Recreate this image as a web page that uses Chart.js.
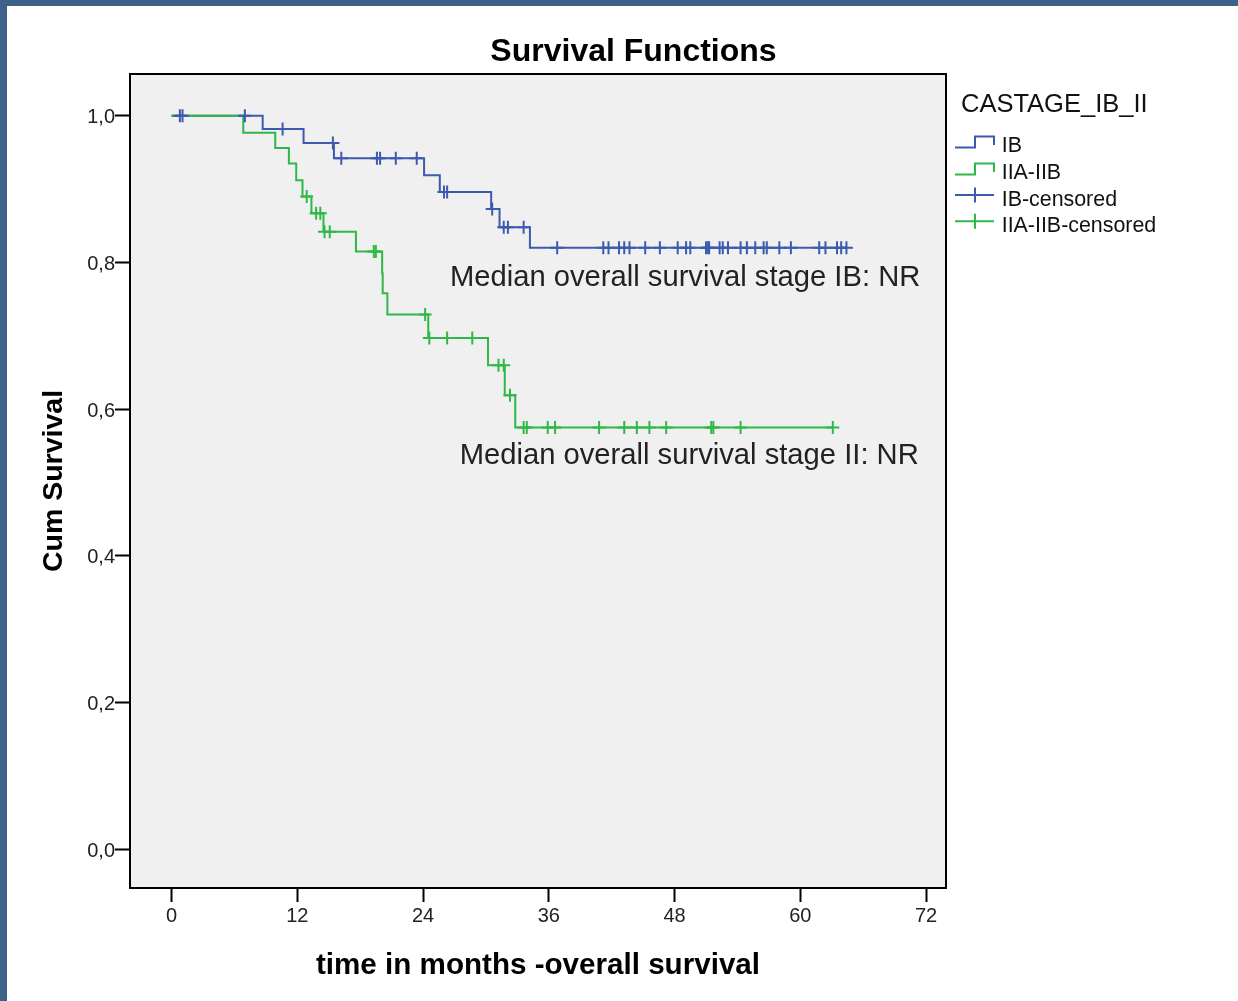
<!DOCTYPE html>
<html>
<head>
<meta charset="utf-8">
<script src="https://cdn.jsdelivr.net/npm/chart.js@4.4.1/dist/chart.umd.min.js"></script>
<style>
  html, body { margin: 0; padding: 0; background: #fff; }
  #wrap { position: absolute; left: 0; top: 0; width: 1238px; height: 1001px; box-sizing: border-box;
          border-left: 7px solid #3d6189; border-top: 6px solid #3d6189; background: #fff; }
  canvas { display: block; }
</style>
</head>
<body>
<div id="wrap"><canvas id="c" width="1231" height="995"></canvas></div>
<script>
// ---- data ----
const seriesNames = ['IB', 'IIA-IIB'];
const legendTitle = 'CASTAGE_IB_II';

// IB: event (death) times and survival after each event
const ibEventTimes = [8.7, 12.6, 15.5, 24.1, 25.6, 30.5, 31.3, 34.2];
const ibSurvival   = [0.982, 0.963, 0.942, 0.919, 0.896, 0.873, 0.848, 0.820];
const ibCensorTimes = [0.8, 1.05, 7.0, 10.6, 15.4, 16.2, 19.6, 19.9, 21.4, 23.4, 26.0, 26.3, 30.6,
  31.7, 32.1, 33.6, 36.8, 41.2, 41.7, 42.7, 43.2, 43.7, 45.2, 46.6, 48.3, 49.1, 49.5, 51.0, 51.2,
  51.3, 52.3, 52.6, 53.1, 54.3, 54.9, 55.7, 56.5, 56.8, 58.0, 59.1, 61.8, 62.4, 63.5, 63.9, 64.4];

// IIA-IIB
const iiEventTimes = [6.85, 9.9, 11.2, 11.9, 12.5, 13.35, 14.5, 17.6, 20.1, 20.15, 20.6, 24.5, 30.2, 31.8, 32.8];
const iiSurvival   = [0.977, 0.956, 0.935, 0.912, 0.890, 0.867, 0.842, 0.815, 0.785, 0.758, 0.729, 0.697, 0.660, 0.619, 0.575];
const iiCensorTimes = [12.9, 13.8, 14.2, 14.6, 15.1, 19.3, 19.5, 24.2, 24.6, 26.3, 28.7, 31.2, 31.7,
  32.3, 33.6, 33.9, 35.9, 36.6, 40.8, 43.2, 44.4, 45.6, 47.2, 51.5, 51.7, 54.3, 63.1];

const xTickValues = [0, 12, 24, 36, 48, 60, 72];
const xTickLabels = ['0', '12', '24', '36', '48', '60', '72'];
const yTickValues = [0, 0.2, 0.4, 0.6, 0.8, 1.0];
const yTickLabels = ['0,0', '0,2', '0,4', '0,6', '0,8', '1,0'];

const noteTexts = ['Median overall survival stage IB: NR', 'Median overall survival stage II: NR'];
const noteAnchors = [{x: 71.45, y: 0.768}, {x: 71.3, y: 0.525}];

// ---- styles ----
const COLORS = ['#3d5aae', '#2fb847'];
const FONT = '"Liberation Sans", Arial, sans-serif';

function stepData(times, surv, censors) {
  const pts = [{x: 0, y: 1}];
  times.forEach((t, i) => pts.push({x: t, y: surv[i]}));
  const end = Math.max(times[times.length - 1], ...censors);
  pts.push({x: end, y: surv[surv.length - 1]});
  return pts;
}
function survAt(times, surv, t) {
  let s = 1;
  for (let i = 0; i < times.length; i++) if (times[i] <= t) s = surv[i];
  return s;
}
function censorData(times, surv, censors) {
  return censors.map(t => ({x: t, y: survAt(times, surv, t)}));
}

const plotBg = {
  id: 'plotBg',
  beforeDatasetsDraw(chart) {
    const {ctx, chartArea: a} = chart;
    ctx.save();
    ctx.fillStyle = '#f0f0f0';
    ctx.fillRect(a.left, a.top, a.right - a.left, a.bottom - a.top);
    ctx.restore();
  },
  afterDatasetsDraw(chart) {
    const {ctx, chartArea: a} = chart;
    ctx.save();
    ctx.strokeStyle = '#000';
    ctx.lineWidth = 2;
    ctx.strokeRect(a.left, a.top, a.right - a.left, a.bottom - a.top);
    // annotations
    const xs = chart.scales.x, ys = chart.scales.y;
    ctx.fillStyle = '#222';
    ctx.font = '29.2px ' + FONT;
    ctx.textAlign = 'right';
    ctx.textBaseline = 'alphabetic';
    noteTexts.forEach((t, i) => {
      ctx.fillText(t, xs.getPixelForValue(noteAnchors[i].x), ys.getPixelForValue(noteAnchors[i].y));
    });
    ctx.restore();
  }
};

const customLegend = {
  id: 'customLegend',
  afterDraw(chart) {
    const {ctx, chartArea: a} = chart;
    ctx.save();
    const x0 = a.right + 15;
    ctx.fillStyle = '#111';
    ctx.font = '25.5px ' + FONT;
    ctx.textAlign = 'left';
    ctx.textBaseline = 'alphabetic';
    ctx.fillText(legendTitle, x0, 105.7);
    const labels = [seriesNames[0], seriesNames[1], seriesNames[0] + '-censored', seriesNames[1] + '-censored'];
    const centers = [137.9, 165, 191.9, 218.2];
    const ix = a.right + 9;
    ctx.font = '21.4px ' + FONT;
    labels.forEach((lab, i) => {
      const c = centers[i];
      const col = COLORS[i % 2];
      ctx.strokeStyle = col;
      ctx.lineWidth = 2;
      ctx.beginPath();
      if (i < 2) {
        ctx.moveTo(ix, c + 3.5);
        ctx.lineTo(ix + 20, c + 3.5);
        ctx.lineTo(ix + 20, c - 7.5);
        ctx.lineTo(ix + 39, c - 7.5);
        ctx.lineTo(ix + 39, c + 1);
      } else {
        ctx.moveTo(ix, c - 3);
        ctx.lineTo(ix + 39, c - 3);
        ctx.moveTo(ix + 20, c - 10.5);
        ctx.lineTo(ix + 20, c + 4.5);
      }
      ctx.stroke();
      ctx.fillStyle = '#111';
      ctx.fillText(lab, ix + 46.7, c + 7.7);
    });
    ctx.restore();
  }
};

new Chart(document.getElementById('c'), {
  data: {
    datasets: [
      { type: 'scatter', label: seriesNames[0] + '-censored', data: censorData(ibEventTimes, ibSurvival, ibCensorTimes),
        pointStyle: 'cross', pointRadius: 6.5, pointBorderWidth: 2, borderColor: COLORS[0], backgroundColor: COLORS[0], order: 0 },
      { type: 'scatter', label: seriesNames[1] + '-censored', data: censorData(iiEventTimes, iiSurvival, iiCensorTimes),
        pointStyle: 'cross', pointRadius: 6.5, pointBorderWidth: 2, borderColor: COLORS[1], backgroundColor: COLORS[1], order: 1 },
      { type: 'line', label: seriesNames[1], data: stepData(iiEventTimes, iiSurvival, iiCensorTimes),
        stepped: 'before', borderColor: COLORS[1], borderWidth: 2, pointRadius: 0, fill: false, order: 2 },
      { type: 'line', label: seriesNames[0], data: stepData(ibEventTimes, ibSurvival, ibCensorTimes),
        stepped: 'before', borderColor: COLORS[0], borderWidth: 2, pointRadius: 0, fill: false, order: 3 }
    ]
  },
  options: {
    responsive: false,
    animation: false,
    devicePixelRatio: 1,
    layout: { padding: { left: 22, top: 0, right: 0, bottom: 0 } },
    plugins: {
      legend: { display: false },
      tooltip: { enabled: false },
      title: { display: true, text: 'Survival Functions', color: '#000',
        font: { family: FONT, size: 32, weight: 'bold' }, padding: { top: 26.8, bottom: 2.8 } }
    },
    scales: {
      x: {
        type: 'linear', position: 'bottom', min: -3.96, max: 73.9,
        afterBuildTicks: s => { s.ticks = xTickValues.map(v => ({value: v})); },
        afterFit: s => { s.height = 113; },
        grid: { display: true, drawOnChartArea: false, drawTicks: true, tickLength: 14, tickColor: '#000', tickWidth: 2 },
        border: { display: false },
        ticks: { color: '#222', padding: 2, font: { family: FONT, size: 20 },
          callback: (v, i) => xTickLabels[i], maxRotation: 0, autoSkip: false },
        title: { display: true, text: 'time in months -overall survival', color: '#000',
          font: { family: FONT, size: 29.6, weight: 'bold' }, padding: { top: 0, bottom: 17.5 } }
      },
      y: {
        type: 'linear', position: 'left', min: -0.053, max: 1.057,
        afterBuildTicks: s => { s.ticks = yTickValues.map(v => ({value: v})); },
        afterFit: s => { s.width = 101; },
        grid: { display: true, drawOnChartArea: false, drawTicks: true, tickLength: 15, tickColor: '#000', tickWidth: 2 },
        border: { display: false },
        ticks: { color: '#222', padding: 0, labelOffset: 2, font: { family: FONT, size: 20 },
          callback: (v, i) => yTickLabels[i], autoSkip: false },
        title: { display: true, text: 'Cum Survival', color: '#000',
          font: { family: FONT, size: 28.5, weight: 'bold' }, padding: { top: 7.9, bottom: 0 } }
      },
      y2: {
        type: 'linear', position: 'right', display: true,
        grid: { display: false }, border: { display: false }, ticks: { display: false },
        afterFit: s => { s.width = 292; }
      }
    }
  },
  plugins: [plotBg, customLegend]
});
</script>
</body>
</html>
